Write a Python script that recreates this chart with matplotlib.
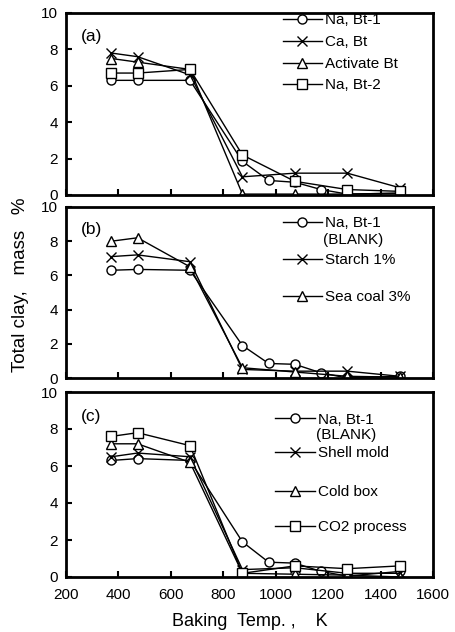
import matplotlib
matplotlib.use("Agg")
import matplotlib.pyplot as plt
from matplotlib.lines import Line2D
from matplotlib.legend import Legend

plt.rcParams['font.family'] = ['Liberation Sans', 'DejaVu Sans']

# Baking temperatures (K)
temp = [373, 473, 673, 873, 973, 1073, 1173, 1273, 1473]
temp_b = [373, 473, 673, 873, 1073, 1273, 1473]

# (a) bentonite types
na_bt1 = [6.3, 6.3, 6.3, 1.85, 0.8, 0.7, 0.3, 0.05, 0.1]
ca_bt = [7.8, 7.6, 6.6, 1.0, 1.2, 1.2, 0.4]
activate_bt = [7.5, 7.3, 6.9, 0.05, 0.05, 0.05, 0.1]
na_bt2 = [6.7, 6.7, 6.9, 2.2, 0.75, 0.3, 0.2]

# (b) additives
b_blank = [6.3, 6.35, 6.3, 1.9, 0.85, 0.8, 0.3, 0.0, 0.1]
starch = [7.1, 7.2, 6.8, 0.5, 0.4, 0.4, 0.1]
sea_coal = [8.0, 8.2, 6.5, 0.6, 0.35, 0.1, 0.05]

# (c) binder processes
c_blank = [6.3, 6.4, 6.3, 1.9, 0.8, 0.75, 0.3, 0.05, 0.3]
shell_mold = [6.5, 6.7, 6.5, 0.4, 0.5, 0.2, 0.2]
cold_box = [7.2, 7.2, 6.2, 0.2, 0.15, 0.1, 0.0]
co2_process = [7.6, 7.8, 7.1, 0.2, 0.6, 0.45, 0.6]

W, H = 456, 632
fig = plt.figure(figsize=(W / 100, H / 100), dpi=100)

left = 66 / W
width = (433 - 66) / W
boxes = [(13, 195), (207, 378), (392, 577)]
axes = [fig.add_axes([left, 1 - b / H, width, (b - t) / H]) for t, b in boxes]

mk = dict(color='black', lw=1.0, mfc='white', mec='black', mew=1.0, ms=6.5)


def style(ax, show_x):
    ax.set_xlim(200, 1600)
    ax.set_ylim(0, 10)
    ax.set_xticks(range(200, 1601, 200))
    ax.set_yticks(range(0, 11, 2))
    ax.tick_params(direction='in', length=4, width=1.5, labelsize=11,
                   top=False, right=False, pad=6)
    ax.tick_params(axis='x', pad=8)
    if not show_x:
        ax.tick_params(labelbottom=False)
    for s in ax.spines.values():
        s.set_linewidth(2)


def legend_entry(ax, marker, label, y, x):
    h = Line2D([], [], marker=marker, **mk)
    leg = Legend(ax, [h], [label], loc='center left', bbox_to_anchor=(x, y),
                 frameon=False, handlelength=2.6, handletextpad=0.2,
                 fontsize=11, borderpad=0, borderaxespad=0)
    ax.add_artist(leg)


# (a)
ax = axes[0]
ax.plot(temp, na_bt1, marker='o', **mk)
ax.plot(temp_b, ca_bt, marker='x', **mk)
ax.plot(temp_b, activate_bt, marker='^', **mk)
ax.plot(temp_b, na_bt2, marker='s', **mk)
style(ax, False)
ax.text(0.04, 0.87, '(a)', transform=ax.transAxes, fontsize=12.5, va='center')
for m, lab, y in [('o', 'Na, Bt-1', 0.96), ('x', 'Ca, Bt', 0.84),
                  ('^', 'Activate Bt', 0.72), ('s', 'Na, Bt-2', 0.605)]:
    legend_entry(ax, m, lab, y, 0.59)

# (b)
ax = axes[1]
ax.plot(temp, b_blank, marker='o', **mk)
ax.plot(temp_b, starch, marker='x', **mk)
ax.plot(temp_b, sea_coal, marker='^', **mk)
style(ax, False)
ax.text(0.04, 0.87, '(b)', transform=ax.transAxes, fontsize=12.5, va='center')
legend_entry(ax, 'o', 'Na, Bt-1', 0.906, 0.59)
ax.text(0.7, 0.807, '(BLANK)', transform=ax.transAxes, fontsize=11, va='center')
legend_entry(ax, 'x', 'Starch 1%', 0.69, 0.59)
legend_entry(ax, '^', 'Sea coal 3%', 0.474, 0.59)

# (c)
ax = axes[2]
ax.plot(temp, c_blank, marker='o', **mk)
ax.plot(temp_b, shell_mold, marker='x', **mk)
ax.plot(temp_b, cold_box, marker='^', **mk)
ax.plot(temp_b, co2_process, marker='s', **mk)
style(ax, True)
ax.text(0.04, 0.87, '(c)', transform=ax.transAxes, fontsize=12.5, va='center')
legend_entry(ax, 'o', 'Na, Bt-1', 0.85, 0.57)
ax.text(0.68, 0.765, '(BLANK)', transform=ax.transAxes, fontsize=11, va='center')
legend_entry(ax, 'x', 'Shell mold', 0.67, 0.57)
legend_entry(ax, '^', 'Cold box', 0.46, 0.57)
legend_entry(ax, 's', 'CO2 process', 0.27, 0.57)
ax.set_xlabel('Baking  Temp. ,    K', fontsize=13, labelpad=8)

fig.text(0.046, 0.549, 'Total clay,   mass   %', rotation=90, fontsize=13.5,
         ha='center', va='center')

fig.savefig('out.png', dpi=100)
